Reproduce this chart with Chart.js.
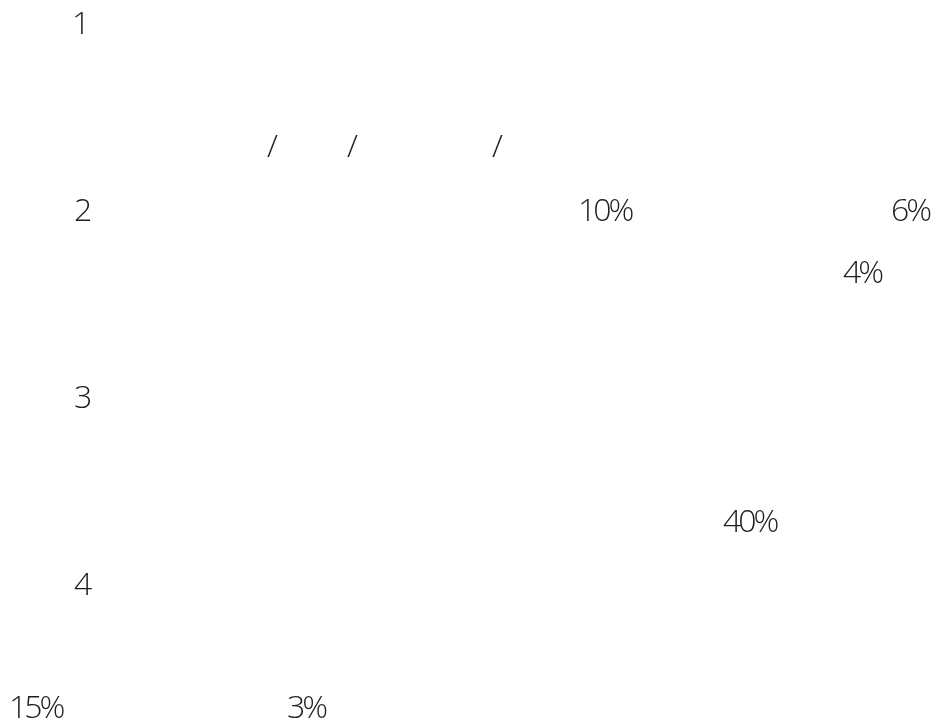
<!DOCTYPE html>
<html>
<head>
<meta charset="utf-8">
<script src="https://cdn.jsdelivr.net/npm/chart.js@4/dist/chart.umd.min.js"></script>
<style>
  html, body { margin: 0; padding: 0; background: #fff; }
  #wrap { width: 938px; height: 728px; }
</style>
</head>
<body>
<div id="wrap"><canvas id="chart" width="938" height="728"></canvas></div>
<script>
// texts that are left on the picture, with where they sit (x = left, y = baseline)
const texts = ['1', '/', '/', '/', '2', '10%', '6%', '4%', '3', '40%', '4', '15%', '3%'];
const textX = [72, 267, 347, 492, 74, 578, 891, 843, 74, 723, 74, 9, 287];
const textY = [34, 157, 157, 157, 221, 221, 221, 283, 408, 532, 595, 718, 718];

const points = texts.map((t, i) => ({ x: textX[i], y: textY[i] }));

// draw every point as its text
const textPlugin = {
    id: 'textPoints',
    afterDatasetsDraw(chart) {
        const ctx = chart.ctx;
        const meta = chart.getDatasetMeta(0);
        ctx.save();
        ctx.fillStyle = '#1e1e1e';
        ctx.font = '300 32px "Open Sans"';
        ctx.letterSpacing = '-3px';
        ctx.textAlign = 'left';
        ctx.textBaseline = 'alphabetic';
        meta.data.forEach((el, i) => {
            ctx.fillText(texts[i], el.x, el.y);
        });
        ctx.restore();
    }
};

const chart = new Chart(document.getElementById('chart').getContext('2d'), {
    type: 'scatter',
    data: {
        datasets: [{ data: points, pointRadius: 0, pointHoverRadius: 0 }]
    },
    options: {
        responsive: false,
        animation: false,
        layout: { padding: 0 },
        plugins: { legend: { display: false }, tooltip: { enabled: false } },
        scales: {
            x: { type: 'linear', min: 0, max: 938, display: false },
            y: { type: 'linear', min: 0, max: 728, reverse: true, display: false }
        }
    },
    plugins: [textPlugin]
});
</script>
</body>
</html>
